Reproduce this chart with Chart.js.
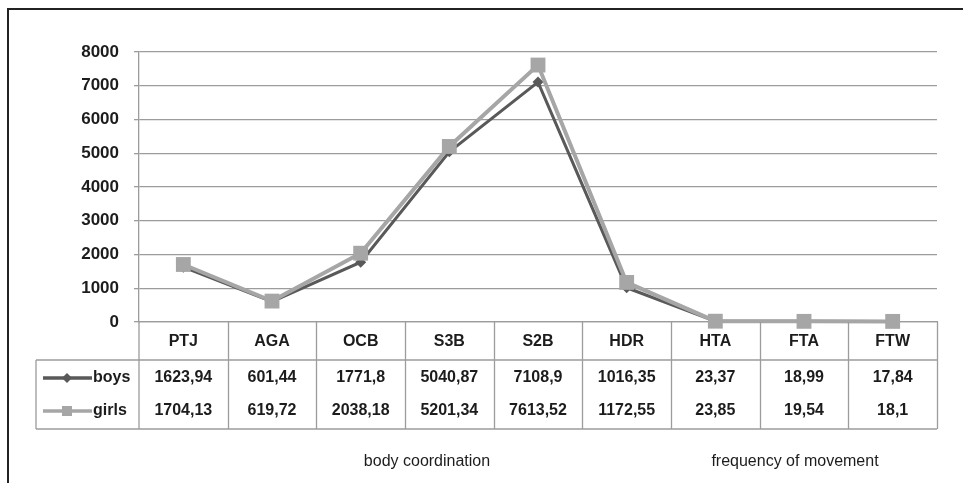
<!DOCTYPE html>
<html>
<head>
<meta charset="utf-8">
<script src="https://cdn.jsdelivr.net/npm/chart.js@4.4.1/dist/chart.umd.min.js"></script>
<style>
  html, body { margin: 0; padding: 0; background: #fff; }
  #wrap { position: relative; width: 963px; height: 483px; overflow: hidden; }
  #frame { position: absolute; left: 7px; top: 8px; width: 1000px; height: 520px; border-left: 2px solid #222; border-top: 2px solid #222; box-sizing: border-box; }
  canvas { position: absolute; left: 0; top: 0; }
</style>
</head>
<body>
<div id="wrap">
  <div id="frame"></div>
  <canvas id="chart" width="963" height="483"></canvas>
</div>
<script>
  /* ── Data ── */
  const categories = ['PTJ', 'AGA', 'OCB', 'S3B', 'S2B', 'HDR', 'HTA', 'FTA', 'FTW'];
  const boys  = [1623.94, 601.44, 1771.8, 5040.87, 7108.9, 1016.35, 23.37, 18.99, 17.84];
  const girls = [1704.13, 619.72, 2038.18, 5201.34, 7613.52, 1172.55, 23.85, 19.54, 18.1];
  const yTicks = [0, 1000, 2000, 3000, 4000, 5000, 6000, 7000, 8000];
  const groupLabels = ['body coordination', 'frequency of movement'];

  const FONT = '"Liberation Sans", Arial, sans-serif';
  const BOYS_C = '#595959', GIRLS_C = '#a6a6a6', LINE_C = '#9c9c9c', TEXT_C = '#1c1c1c';

  function fmt(v) { return String(v).replace('.', ','); }

  /* ── Data table under the plot ── */
  const tablePlugin = {
    id: 'dataTable',
    afterDraw(chart) {
      const ctx = chart.ctx, x = chart.scales.x, area = chart.chartArea;
      const half = (x.getPixelForValue(1) - x.getPixelForValue(0)) / 2;
      const top = area.bottom, rowTop = 360, bottom = 429, tLeft = 36;
      const right = x.getPixelForValue(categories.length - 1) + half;
      ctx.save();
      ctx.strokeStyle = LINE_C; ctx.lineWidth = 1.3;
      ctx.beginPath();
      categories.forEach((c, i) => {
        const bx = Math.round(x.getPixelForValue(i) + half) + 0.5;
        ctx.moveTo(bx, top); ctx.lineTo(bx, bottom);
      });
      ctx.moveTo(area.left, top); ctx.lineTo(area.left, bottom);
      ctx.moveTo(tLeft, rowTop); ctx.lineTo(right, rowTop);
      ctx.moveTo(tLeft, bottom); ctx.lineTo(right, bottom);
      ctx.moveTo(tLeft, rowTop); ctx.lineTo(tLeft, bottom);
      ctx.stroke();

      ctx.fillStyle = TEXT_C;
      ctx.font = 'bold 16px ' + FONT;
      ctx.textAlign = 'center'; ctx.textBaseline = 'middle';
      categories.forEach((c, i) => {
        const cx = x.getPixelForValue(i);
        ctx.fillText(c, cx, 342);
        ctx.fillText(fmt(boys[i]), cx, 378);
        ctx.fillText(fmt(girls[i]), cx, 411);
      });

      // legend keys
      const rows = [
        { label: chart.data.datasets[1].label, y: 378, color: BOYS_C, shape: 'diamond' },
        { label: chart.data.datasets[0].label, y: 411, color: GIRLS_C, shape: 'square' }
      ];
      rows.forEach(r => {
        ctx.strokeStyle = r.color; ctx.fillStyle = r.color; ctx.lineWidth = 3.5;
        ctx.beginPath(); ctx.moveTo(43, r.y); ctx.lineTo(92, r.y); ctx.stroke();
        ctx.beginPath();
        if (r.shape === 'diamond') {
          ctx.moveTo(67, r.y - 5); ctx.lineTo(72, r.y); ctx.lineTo(67, r.y + 5); ctx.lineTo(62, r.y);
        } else {
          ctx.rect(62, r.y - 5, 10, 10);
        }
        ctx.fill();
        ctx.fillStyle = TEXT_C; ctx.textAlign = 'left';
        ctx.fillText(r.label, 93, r.y);
      });

      ctx.textAlign = 'center';
      ctx.font = '16px ' + FONT;
      ctx.fillText(groupLabels[0], 427, 462);
      ctx.fillText(groupLabels[1], 795, 462);
      ctx.restore();
    }
  };

  new Chart(document.getElementById('chart'), {
    type: 'line',
    data: {
      labels: categories,
      datasets: [
        { label: 'girls', data: girls, borderColor: GIRLS_C, backgroundColor: GIRLS_C, borderWidth: 4,
          pointStyle: 'rect', pointRadius: 10.5, pointBorderWidth: 0, tension: 0, order: 0, clip: false },
        { label: 'boys', data: boys, borderColor: BOYS_C, backgroundColor: BOYS_C, borderWidth: 3,
          pointStyle: 'rectRot', pointRadius: 5.5, pointBorderWidth: 0, tension: 0, order: 1, clip: false }
      ]
    },
    options: {
      responsive: false, animation: false,
      layout: { padding: { top: 52, right: 26, left: 0, bottom: 0 } },
      plugins: { legend: { display: false }, tooltip: { enabled: false } },
      scales: {
        x: {
          offset: true,
          grid: { display: false },
          border: { display: true, color: LINE_C, width: 1.3 },
          ticks: { display: false },
          afterFit: s => { s.height = 483 - 322; }
        },
        y: {
          min: 0, max: 8000,
          afterBuildTicks: s => { s.ticks = yTicks.map(v => ({ value: v })); },
          grid: { color: LINE_C, lineWidth: 1.3, tickLength: 5 },
          border: { display: true, color: LINE_C, width: 1.3 },
          ticks: { padding: 15, color: TEXT_C, font: { family: FONT, size: 17, weight: 'bold' },
                   callback: v => String(v) },
          afterFit: s => { s.width = 139; }
        }
      }
    },
    plugins: [tablePlugin]
  });
</script>
</body>
</html>
